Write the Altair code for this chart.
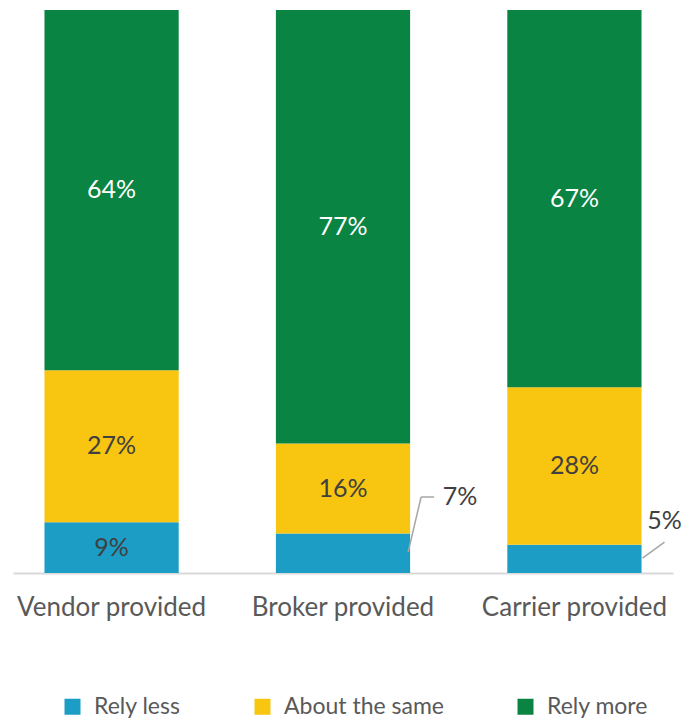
import altair as alt
import pandas as pd

categories = ["Vendor provided", "Broker provided", "Carrier provided"]
responses = ["Rely less", "About the same", "Rely more"]
rely_less = [9, 7, 5]
about_same = [27, 16, 28]
rely_more = [64, 77, 67]
colors = ["#1B9DC5", "#F8C511", "#0A8443"]

rows = []
for i, c in enumerate(categories):
    for j, (r, vals) in enumerate(zip(responses, [rely_less, about_same, rely_more])):
        rows.append({"cat": c, "resp": r, "value": vals[i], "idx": j})
df = pd.DataFrame(rows)

FONT = "Lato"
LBL = 25
x_enc = alt.X("cat:N", sort=categories, title=None,
              scale=alt.Scale(paddingInner=0.42, paddingOuter=0.136),
              axis=alt.Axis(labelAngle=0, ticks=False, domainColor="#D9D9D9", domainWidth=2,
                            labelFontSize=26, labelColor="#595959", labelFont=FONT,
                            labelPadding=34, labelBaseline="middle", labelLimit=0))
y_scale = alt.Scale(domain=[0, 100])

base = alt.Chart(df)

bars = base.mark_bar().encode(
    x=x_enc,
    y=alt.Y("value:Q", stack="zero", scale=y_scale, axis=None),
    color=alt.Color("resp:N", scale=alt.Scale(domain=responses, range=colors),
                    legend=alt.Legend(title=None, orient="none", direction="horizontal",
                                      legendX=48, legendY=685, symbolType="square",
                                      symbolSize=256, symbolStrokeWidth=0, labelFontSize=23,
                                      labelFont=FONT, labelColor="#595959", columnPadding=70,
                                      labelOffset=10, padding=0, labelLimit=0)),
    order=alt.Order("idx:Q"),
)

inside = base.transform_stack(
    stack="value", groupby=["cat"], as_=["v0", "v1"], sort=[alt.SortField("idx")]
).transform_calculate(mid="(datum.v0 + datum.v1) / 2", label="datum.value + '%'").transform_filter(
    "datum.value >= 8"
).mark_text(fontSize=LBL, font=FONT).encode(
    x=alt.X("cat:N", sort=categories),
    y=alt.Y("mid:Q", scale=y_scale),
    text=alt.Text("label:N"),
    color=alt.condition(alt.datum.resp == "Rely more", alt.value("white"), alt.value("#404040")),
)

# Outside labels for the small segments
out_df = pd.DataFrame({"cat": ["Broker provided", "Carrier provided"],
                       "label": [f"{rely_less[1]}%", f"{rely_less[2]}%"],
                       "ly": [13.5, 9.2]})
out_broker = alt.Chart(out_df.iloc[[0]]).mark_text(fontSize=LBL, font=FONT, color="#404040", dx=50).encode(
    x=alt.X("cat:N", sort=categories, bandPosition=1), y=alt.Y("ly:Q", scale=y_scale), text="label:N")
out_carrier = alt.Chart(out_df.iloc[[1]]).mark_text(fontSize=LBL, font=FONT, color="#404040", dx=23).encode(
    x=alt.X("cat:N", sort=categories, bandPosition=1), y=alt.Y("ly:Q", scale=y_scale), text="label:N")

lead_b = pd.DataFrame({"cat": ["Broker provided"], "y1": [3.7], "y2": [13.5]})
lead_c = pd.DataFrame({"cat": ["Carrier provided"], "y1": [2.66], "y2": [5.5]})
rule_kw = dict(color="#A6A6A6", strokeWidth=1.5)
r1 = alt.Chart(lead_b).mark_rule(xOffset=-2, x2Offset=11, **rule_kw).encode(
    x=alt.X("cat:N", sort=categories, bandPosition=1), x2=alt.X2("cat:N", bandPosition=1),
    y=alt.Y("y1:Q", scale=y_scale), y2="y2:Q")
r2 = alt.Chart(lead_b).mark_rule(xOffset=11, x2Offset=24, **rule_kw).encode(
    x=alt.X("cat:N", sort=categories, bandPosition=1), x2=alt.X2("cat:N", bandPosition=1),
    y=alt.Y("y2:Q", scale=y_scale))
r3 = alt.Chart(lead_c).mark_rule(xOffset=1, x2Offset=23, **rule_kw).encode(
    x=alt.X("cat:N", sort=categories, bandPosition=1), x2=alt.X2("cat:N", bandPosition=1),
    y=alt.Y("y1:Q", scale=y_scale), y2="y2:Q")

chart = alt.layer(bars, inside, r1, r2, r3, out_broker, out_carrier).properties(
    width=660, height=563, padding={"left": 5, "top": 2, "right": 0, "bottom": 0}
).configure_view(stroke=None).configure_axis(grid=False)

chart.save("out.html", embed_options={"renderer": "svg", "actions": False})
